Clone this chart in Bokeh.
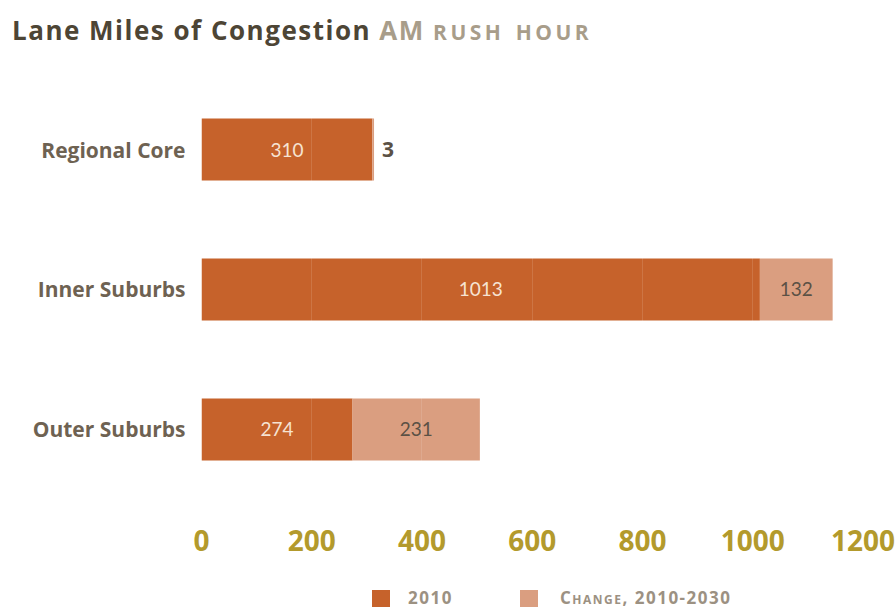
from bokeh.plotting import figure
from bokeh.layouts import column
from bokeh.models import Range1d, ColumnDataSource, FixedTicker, Div
from bokeh.core.properties import value
from bokeh.embed import file_html
from bokeh.resources import INLINE

# ---- data ----
categories = ["Regional Core", "Inner Suburbs", "Outer Suburbs"]
lane_miles_2010 = [310, 1013, 274]
change_2010_2030 = [3, 132, 231]
x_ticks = [0, 200, 400, 600, 800, 1000, 1200]
series_names = ["2010", "Change, 2010-2030"]
title_main = "Lane Miles of Congestion"
title_am = "AM"
title_sub = "rush hour"

DARK = "#C6622B"
LIGHT = "#DA9E80"
FONT = "Open Sans"
colors = [DARK, LIGHT]

n = len(categories)
ypos = [n - 1 - i for i in range(n)]
totals = [a + b for a, b in zip(lane_miles_2010, change_2010_2030)]

src = ColumnDataSource(dict(
    y=ypos, base=lane_miles_2010, change=change_2010_2030, cat=categories,
))

# ---- title (HTML: two colours and small caps) ----
title_div = Div(
    text=('<div style="position:relative;left:12px;top:14px;white-space:nowrap;'
          'font-family:\'Open Sans\';font-weight:700;font-size:26px;line-height:30px;'
          'letter-spacing:1.5px;color:#4D4535;">' + title_main +
          ' <span style="color:#A89D8A;">' + title_am + '</span> '
          '<span style="color:#A89D8A;font-variant:small-caps;font-size:30px;'
          'letter-spacing:3.5px;">' + title_sub + '</span></div>'),
    width=896, height=62, margin=(0, 0, 0, 0))

p = figure(width=896, height=508,
           x_range=Range1d(0, 1230), y_range=Range1d(-0.579, 2.493),
           output_backend="svg", toolbar_location=None,
           min_border_left=201, min_border_right=17,
           min_border_top=18, min_border_bottom=60, margin=(0, 0, 0, 0))
p.outline_line_color = None
p.background_fill_color = "white"

bar_h = 0.443
rs = p.hbar_stack(["base", "change"], y="y", height=bar_h, color=colors,
                  line_color=None, source=src)

# grid: faint white lines visible over the bars
p.ygrid.visible = False
p.xgrid.grid_line_color = "white"
p.xgrid.grid_line_alpha = 0.12
p.xgrid.level = "overlay"

# x axis
xa = p.xaxis[0]
xa.ticker = FixedTicker(ticks=x_ticks)
xa.axis_line_color = None
xa.major_tick_line_color = None
xa.major_tick_out = 0
xa.major_tick_in = 0
xa.minor_tick_line_color = None
xa.major_label_text_font = FONT
xa.major_label_text_font_size = "28px"
xa.major_label_text_font_style = "bold"
xa.major_label_text_color = "#B39A2C"
xa.major_label_standoff = 19

# y axis
ya = p.yaxis[0]
ya.ticker = FixedTicker(ticks=ypos)
ya.major_label_overrides = {y: c for y, c in zip(ypos, categories)}
ya.axis_line_color = None
ya.major_tick_line_color = None
ya.major_tick_out = 0
ya.major_tick_in = 0
ya.minor_tick_line_color = None
ya.major_label_text_font = FONT
ya.major_label_text_font_size = "21px"
ya.major_label_text_font_style = "bold"
ya.major_label_text_color = "#6E6252"
ya.major_label_standoff = 16

# value labels
lab_2010 = ColumnDataSource(dict(
    x=[v / 2 for v in lane_miles_2010], y=ypos,
    t=[str(v) for v in lane_miles_2010]))
p.text(x="x", y="y", text="t", source=lab_2010, text_align="center",
       text_baseline="middle", text_font=value("Lato"),
       text_font_size="19px", text_color="#F6E3D2")

inside = [c >= 40 for c in change_2010_2030]
lab_chg_in = ColumnDataSource(dict(
    x=[a + c / 2 for a, c, ok in zip(lane_miles_2010, change_2010_2030, inside) if ok],
    y=[y for y, ok in zip(ypos, inside) if ok],
    t=[str(c) for c, ok in zip(change_2010_2030, inside) if ok]))
p.text(x="x", y="y", text="t", source=lab_chg_in, text_align="center",
       text_baseline="middle", text_font=value("Lato"),
       text_font_size="19px", text_color="#5B5145")
lab_chg_out = ColumnDataSource(dict(
    x=[t for t, ok in zip(totals, inside) if not ok],
    y=[y for y, ok in zip(ypos, inside) if not ok],
    t=[str(c) for c, ok in zip(change_2010_2030, inside) if not ok]))
p.text(x="x", y="y", text="t", source=lab_chg_out, text_align="left",
       text_baseline="middle", x_offset=8, text_font=value(FONT),
       text_font_style="bold", text_font_size="21px", text_color="#5B5145")

# ---- legend (HTML, below the axis) ----
sq_left = [372, 520]
txt_left = [408, 560]
items = ""
for name, col, sl, tl in zip(series_names, colors, sq_left, txt_left):
    items += ('<span style="position:absolute;left:%dpx;top:0px;width:18px;height:17px;'
              'background:%s;"></span>' % (sl, col))
    items += ('<span style="position:absolute;left:%dpx;top:-4px;line-height:24px;">%s</span>'
              % (tl, name))
legend_div = Div(
    text=('<div style="position:relative;top:20px;height:17px;white-space:nowrap;'
          'font-family:\'Open Sans\';font-weight:700;font-size:17px;letter-spacing:1.5px;'
          'color:#9C9182;font-variant:small-caps;">' + items + '</div>'),
    width=896, height=38, margin=(0, 0, 0, 0))

layout = column(title_div, p, legend_div, spacing=0)
open("out.html", "w").write(file_html(layout, INLINE))
